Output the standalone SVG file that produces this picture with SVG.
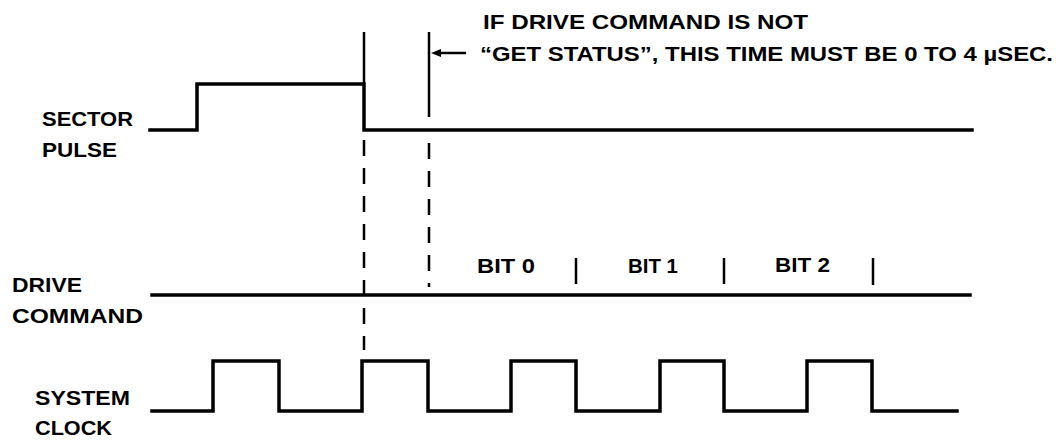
<svg xmlns="http://www.w3.org/2000/svg" width="1063" height="442" viewBox="0 0 1063 442">
<style>
text{font-family:"Liberation Sans",Arial,sans-serif;font-weight:bold;fill:#000}
.lbl{font-size:20px}
.sig{fill:none;stroke:#000;stroke-width:3.5;stroke-linejoin:miter;stroke-linecap:square}
.solid{stroke:#000;stroke-width:2.5;fill:none}
.dash{stroke:#000;stroke-width:2.5;fill:none;stroke-dasharray:16 12}
.mark{stroke:#000;stroke-width:2.5}
</style>
<defs>
<marker id="ah" viewBox="0 0 10 10" refX="0" refY="5" markerWidth="10" markerHeight="10" markerUnits="userSpaceOnUse" orient="auto-start-reverse">
<path d="M0,1 L10,5 L0,9 z" fill="#000"/>
</marker>
</defs>
<rect width="1063" height="442" fill="#fff"/>
<g id="sector-pulse">
<text class="lbl" x="42" y="126" textLength="91" lengthAdjust="spacingAndGlyphs">SECTOR</text>
<text class="lbl" x="42" y="157" textLength="75" lengthAdjust="spacingAndGlyphs">PULSE</text>
<path class="sig" d="M150,130 H197 V84 H364 V130 H972"/>
</g>
<g id="drive-command">
<text class="lbl" x="12" y="292" textLength="70" lengthAdjust="spacingAndGlyphs">DRIVE</text>
<text class="lbl" x="12" y="323" textLength="131" lengthAdjust="spacingAndGlyphs">COMMAND</text>
<path class="sig" d="M152,295 H970"/>
<line class="mark" x1="576" y1="258" x2="576" y2="284"/>
<line class="mark" x1="724" y1="258" x2="724" y2="284"/>
<line class="mark" x1="873" y1="258" x2="873" y2="285"/>
<text class="lbl" x="477" y="273" textLength="58" lengthAdjust="spacingAndGlyphs">BIT 0</text>
<text class="lbl" x="628" y="273" textLength="50" lengthAdjust="spacingAndGlyphs">BIT 1</text>
<text class="lbl" x="775" y="272" textLength="55" lengthAdjust="spacingAndGlyphs">BIT 2</text>
</g>
<g id="system-clock">
<text class="lbl" x="35" y="405" textLength="95" lengthAdjust="spacingAndGlyphs">SYSTEM</text>
<text class="lbl" x="35" y="435" textLength="77" lengthAdjust="spacingAndGlyphs">CLOCK</text>
<path class="sig" d="M152,411 H213 V361 H279 V411 H362 V361 H428 V411 H511 V361 H576 V411 H660 V361 H724 V411 H807 V361 H872 V411 H957"/>
</g>
<g id="connectors">
<line class="solid" x1="364" y1="32" x2="364" y2="84"/>
<line class="dash" x1="364" y1="140" x2="364" y2="350"/>
<line class="solid" x1="429" y1="32" x2="429" y2="117"/>
<line class="dash" x1="429" y1="143" x2="429" y2="287"/>
<line class="solid" x1="466" y1="53" x2="441" y2="53" marker-end="url(#ah)"/>
</g>
<g id="note">
<text class="lbl" x="483" y="29" textLength="325" lengthAdjust="spacingAndGlyphs">IF DRIVE COMMAND IS NOT</text>
<text class="lbl" x="480" y="61" textLength="573" lengthAdjust="spacingAndGlyphs">“GET STATUS”, THIS TIME MUST BE 0 TO 4 µSEC.</text>
</g>
</svg>
